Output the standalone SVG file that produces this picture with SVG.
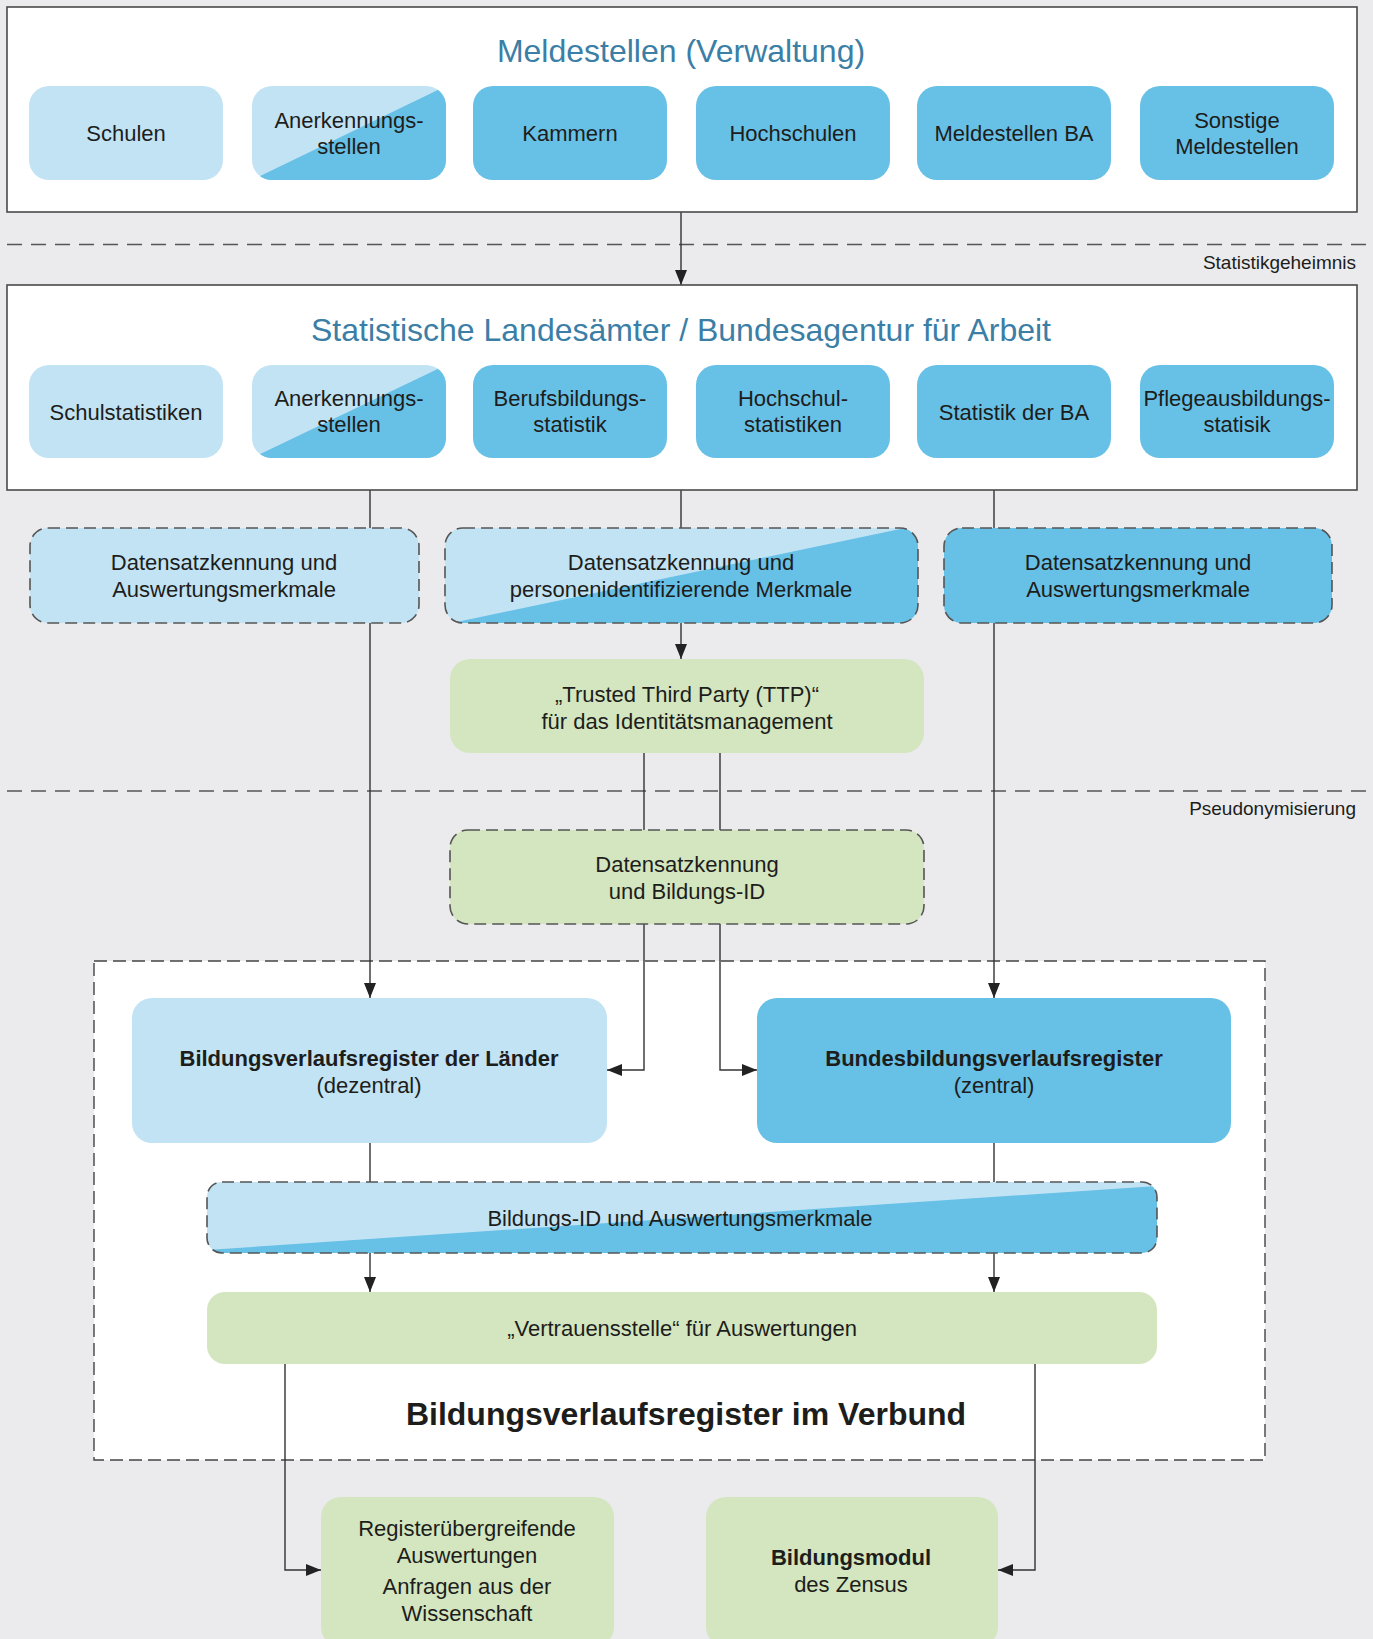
<svg xmlns="http://www.w3.org/2000/svg" width="1373" height="1639" viewBox="0 0 1373 1639">
<style>
text{font-family:"Liberation Sans",Arial,sans-serif;fill:#1d1d1b;text-anchor:middle}
.t{font-size:22px}
.b{font-size:22px;font-weight:bold}
.title{font-size:32px;fill:#3b7ea6}
.big{font-size:32px;font-weight:bold}
.small{font-size:19px;text-anchor:end}
.frame{fill:#fff;stroke:#4a4a4a;stroke-width:1.6}
.lb{fill:#c2e3f4}
.db{fill:#67c0e6}
.gr{fill:#d3e6c0}
.dash{fill:none;stroke:#555;stroke-width:1.6;stroke-dasharray:12 6}
.sep{fill:none;stroke:#555;stroke-width:1.4;stroke-dasharray:15 9}
.c{fill:none;stroke:#333;stroke-width:1.4}
.a{fill:none;stroke:#333;stroke-width:1.4;marker-end:url(#arr)}
</style>
<defs>
<marker id="arr" markerUnits="userSpaceOnUse" markerWidth="16" markerHeight="12" refX="15" refY="6" orient="auto">
<path d="M0,0 L15,6 L0,12 z" fill="#222"/>
</marker>
<clipPath id="cA1"><rect x="252" y="86" width="194" height="94" rx="20"/></clipPath>
<clipPath id="cA2"><rect x="252" y="365" width="194" height="93" rx="20"/></clipPath>
<clipPath id="cP"><rect x="445" y="528" width="473" height="95" rx="18"/></clipPath>
<clipPath id="cB"><rect x="207" y="1182" width="950" height="71" rx="15"/></clipPath>
</defs>
<rect width="1373" height="1639" fill="#ebebed"/>

<g id="separators">
<line class="sep" x1="7" y1="244.5" x2="1373" y2="244.5"/>
<text class="small" x="1356" y="269">Statistikgeheimnis</text>
<line class="sep" x1="7" y1="791" x2="1373" y2="791"/>
<text class="small" x="1356" y="815">Pseudonymisierung</text>
</g>

<g id="verbund">
<rect x="94" y="961" width="1171" height="499" fill="#fff" stroke="#444" stroke-width="1.4" stroke-dasharray="13 6"/>
<text class="big" x="686" y="1425">Bildungsverlaufsregister im Verbund</text>
</g>

<g id="connectors">
<line class="a" x1="681" y1="212" x2="681" y2="285"/>
<line class="a" x1="370" y1="490" x2="370" y2="998"/>
<line class="c" x1="681" y1="490" x2="681" y2="528"/>
<line class="a" x1="681" y1="623" x2="681" y2="659"/>
<line class="a" x1="994" y1="490" x2="994" y2="998"/>
<line class="c" x1="644" y1="753" x2="644" y2="830"/>
<line class="c" x1="720" y1="753" x2="720" y2="830"/>
<polyline class="a" points="644,924 644,1070 607,1070"/>
<polyline class="a" points="720,924 720,1070 757,1070"/>
<line class="c" x1="370" y1="1143" x2="370" y2="1182"/>
<line class="c" x1="994" y1="1143" x2="994" y2="1182"/>
<line class="a" x1="370" y1="1253" x2="370" y2="1292"/>
<line class="a" x1="994" y1="1253" x2="994" y2="1292"/>
<polyline class="a" points="285,1364 285,1570 321,1570"/>
<polyline class="a" points="1035,1364 1035,1570 998,1570"/>
</g>

<g id="meldestellen">
<rect class="frame" x="7" y="7" width="1350" height="205"/>
<text class="title" x="681" y="62">Meldestellen (Verwaltung)</text>
</g>
<g id="schulen">
<rect class="lb" x="29" y="86" width="194" height="94" rx="20"/>
<text class="t" x="126" y="141">Schulen</text>
</g>
<g id="anerkennung1">
<rect class="lb" x="252" y="86" width="194" height="94" rx="20"/>
<polygon class="db" clip-path="url(#cA1)" points="252,180 446,86 446,180"/>
<text class="t" x="349" y="128">Anerkennungs-</text>
<text class="t" x="349" y="154">stellen</text>
</g>
<g id="kammern">
<rect class="db" x="473" y="86" width="194" height="94" rx="20"/>
<text class="t" x="570" y="141">Kammern</text>
</g>
<g id="hochschulen">
<rect class="db" x="696" y="86" width="194" height="94" rx="20"/>
<text class="t" x="793" y="141">Hochschulen</text>
</g>
<g id="meldestellenba">
<rect class="db" x="917" y="86" width="194" height="94" rx="20"/>
<text class="t" x="1014" y="141">Meldestellen BA</text>
</g>
<g id="sonstige">
<rect class="db" x="1140" y="86" width="194" height="94" rx="20"/>
<text class="t" x="1237" y="128">Sonstige</text>
<text class="t" x="1237" y="154">Meldestellen</text>
</g>

<g id="landesaemter">
<rect class="frame" x="7" y="285" width="1350" height="205"/>
<text class="title" x="681" y="341">Statistische Landesämter / Bundesagentur für Arbeit</text>
</g>
<g id="schulstatistiken">
<rect class="lb" x="29" y="365" width="194" height="93" rx="20"/>
<text class="t" x="126" y="420">Schulstatistiken</text>
</g>
<g id="anerkennung2">
<rect class="lb" x="252" y="365" width="194" height="93" rx="20"/>
<polygon class="db" clip-path="url(#cA2)" points="252,458 446,365 446,458"/>
<text class="t" x="349" y="406">Anerkennungs-</text>
<text class="t" x="349" y="432">stellen</text>
</g>
<g id="berufsbildung">
<rect class="db" x="473" y="365" width="194" height="93" rx="20"/>
<text class="t" x="570" y="406">Berufsbildungs-</text>
<text class="t" x="570" y="432">statistik</text>
</g>
<g id="hochschulstat">
<rect class="db" x="696" y="365" width="194" height="93" rx="20"/>
<text class="t" x="793" y="406">Hochschul-</text>
<text class="t" x="793" y="432">statistiken</text>
</g>
<g id="statistikba">
<rect class="db" x="917" y="365" width="194" height="93" rx="20"/>
<text class="t" x="1014" y="420">Statistik der BA</text>
</g>
<g id="pflege">
<rect class="db" x="1140" y="365" width="194" height="93" rx="20"/>
<text class="t" x="1237" y="406">Pflegeausbildungs-</text>
<text class="t" x="1237" y="432">statisik</text>
</g>

<g id="daten-links">
<rect class="lb" x="30" y="528" width="389" height="95" rx="18"/>
<rect class="dash" x="30" y="528" width="389" height="95" rx="18"/>
<text class="t" x="224" y="570">Datensatzkennung und</text>
<text class="t" x="224" y="597">Auswertungsmerkmale</text>
</g>
<g id="daten-mitte">
<rect class="lb" x="445" y="528" width="473" height="95" rx="18"/>
<polygon class="db" clip-path="url(#cP)" points="452,623 905,528 918,528 918,623"/>
<rect class="dash" x="445" y="528" width="473" height="95" rx="18"/>
<text class="t" x="681" y="570">Datensatzkennung und</text>
<text class="t" x="681" y="597">personenidentifizierende Merkmale</text>
</g>
<g id="daten-rechts">
<rect class="db" x="944" y="528" width="388" height="95" rx="18"/>
<rect class="dash" x="944" y="528" width="388" height="95" rx="18"/>
<text class="t" x="1138" y="570">Datensatzkennung und</text>
<text class="t" x="1138" y="597">Auswertungsmerkmale</text>
</g>

<g id="ttp">
<rect class="gr" x="450" y="659" width="474" height="94" rx="20"/>
<text class="t" x="687" y="702">„Trusted Third Party (TTP)“</text>
<text class="t" x="687" y="729">für das Identitätsmanagement</text>
</g>
<g id="bildungsid">
<rect class="gr" x="450" y="830" width="474" height="94" rx="18"/>
<rect class="dash" x="450" y="830" width="474" height="94" rx="18"/>
<text class="t" x="687" y="872">Datensatzkennung</text>
<text class="t" x="687" y="899">und Bildungs-ID</text>
</g>

<g id="bvr-laender">
<rect class="lb" x="132" y="998" width="475" height="145" rx="20"/>
<text class="b" x="369" y="1066">Bildungsverlaufsregister der Länder</text>
<text class="t" x="369" y="1093">(dezentral)</text>
</g>
<g id="bvr-bund">
<rect class="db" x="757" y="998" width="474" height="145" rx="20"/>
<text class="b" x="994" y="1066">Bundesbildungsverlaufsregister</text>
<text class="t" x="994" y="1093">(zentral)</text>
</g>
<g id="bildungsid-merkmale">
<rect class="lb" x="207" y="1182" width="950" height="71" rx="15"/>
<polygon class="db" clip-path="url(#cB)" points="207,1250 1157,1186 1157,1253 207,1253"/>
<rect class="dash" x="207" y="1182" width="950" height="71" rx="15"/>
<text class="t" x="680" y="1226">Bildungs-ID und Auswertungsmerkmale</text>
</g>
<g id="vertrauensstelle">
<rect class="gr" x="207" y="1292" width="950" height="72" rx="18"/>
<text class="t" x="682" y="1336">„Vertrauensstelle“ für Auswertungen</text>
</g>

<g id="register">
<rect class="gr" x="321" y="1497" width="293" height="150" rx="20"/>
<text class="t" x="467" y="1536">Registerübergreifende</text>
<text class="t" x="467" y="1563">Auswertungen</text>
<text class="t" x="467" y="1594">Anfragen aus der</text>
<text class="t" x="467" y="1621">Wissenschaft</text>
</g>
<g id="zensus">
<rect class="gr" x="706" y="1497" width="292" height="150" rx="20"/>
<text class="b" x="851" y="1565">Bildungsmodul</text>
<text class="t" x="851" y="1592">des Zensus</text>
</g>
</svg>
